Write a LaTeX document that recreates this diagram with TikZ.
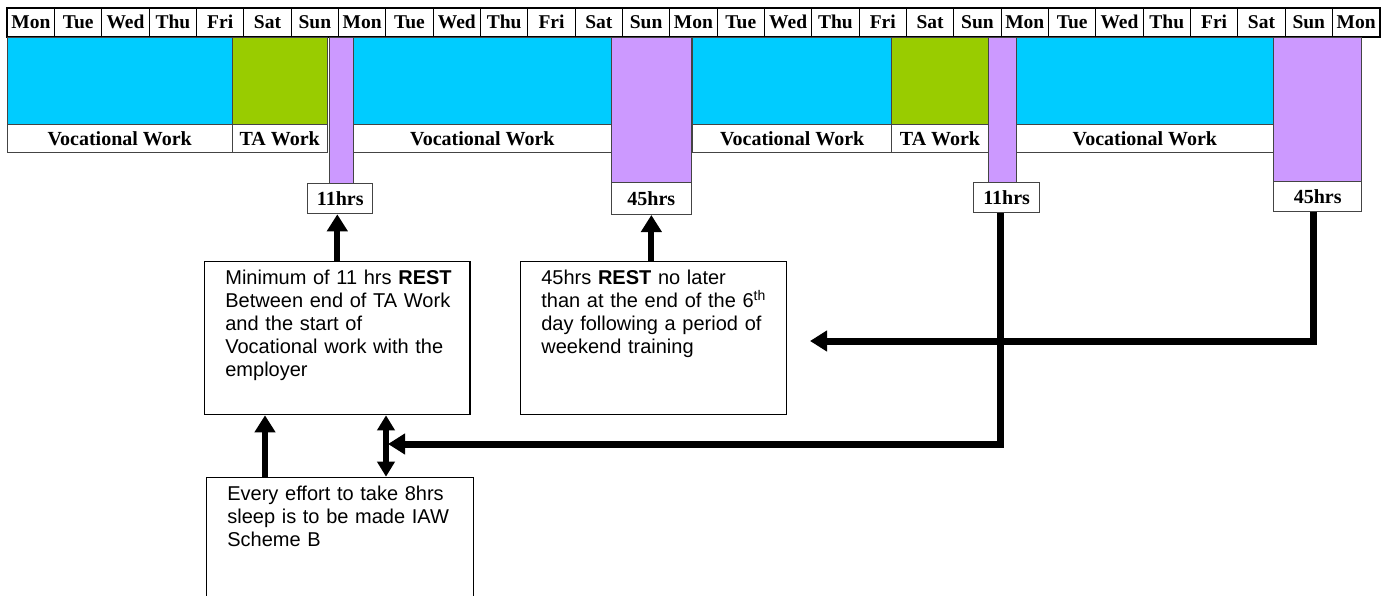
\documentclass[tikz,border=0pt]{standalone}
\usepackage{fontspec}
\setmainfont{Liberation Serif}
\newfontfamily\sansf{Liberation Sans}
\usetikzlibrary{arrows.meta,calc}
\definecolor{vblue}{HTML}{00CCFF}
\definecolor{tgreen}{HTML}{99CC00}
\definecolor{rpurple}{HTML}{CC99FF}
\definecolor{edgec}{HTML}{444444}
\begin{document}
\begin{tikzpicture}[x=1pt,y=-1pt,
  day/.style={draw, line width=1pt, minimum width=47.33pt, minimum height=28pt, inner sep=0pt, anchor=north west, text height=16pt, text depth=3pt, font=\bfseries\fontsize{19.5}{20}\selectfont},
  blk/.style={draw=edgec, line width=1pt, inner sep=0pt, anchor=north west},
  lbl/.style={draw=edgec, fill=white, line width=1pt, inner sep=0pt, anchor=north west, minimum height=28.5pt, font=\bfseries\fontsize{20}{22}\selectfont},
  hrs/.style={draw=edgec, fill=white, line width=1pt, inner sep=0pt, anchor=north west, font=\bfseries\fontsize{20}{22}\selectfont},
  info/.style={draw, line width=1.3pt, anchor=north west, align=left, inner xsep=20.7pt, inner ysep=7pt, text height=16pt, font=\sansf\fontsize{20}{23}\selectfont},
  conn/.style={line width=7pt, line join=miter, -{Triangle[length=17pt,width=20pt]}},
  ]
\useasboundingbox (0,0) rectangle (1394,596);
\clip (0,0) rectangle (1394,596);

% header row of days
\foreach \d [count=\i from 0] in {Mon,Tue,Wed,Thu,Fri,Sat,Sun,Mon,Tue,Wed,Thu,Fri,Sat,Sun,Mon,Tue,Wed,Thu,Fri,Sat,Sun,Mon,Tue,Wed,Thu,Fri,Sat,Sun,Mon}
  \node[day] (d\i) at ({6.7+47.33*\i},8) {\d};
\draw[line width=2pt] (d0.north west) rectangle (d28.south east);

% week 1
\node[blk, fill=vblue, minimum width=225pt, minimum height=87pt] (b1) at (6.7,37) {};
\node[lbl, minimum width=225pt] (l1) at (6.7,124) {Vocational Work};
\node[blk, fill=tgreen, minimum width=95pt, minimum height=87pt] (g1) at (231.7,37) {};
\node[lbl, minimum width=95pt] (l2) at (231.7,124) {TA Work};
\node[blk, fill=rpurple, minimum width=24pt, minimum height=146pt] (p1) at (328.7,37) {};
\node[hrs, minimum width=65pt, minimum height=30.6pt] (h11a) at (307.3,182.7) {11hrs};

% week 2
\node[blk, fill=vblue, minimum width=257.7pt, minimum height=87pt] (b2) at (353,37) {};
\node[lbl, minimum width=257.7pt] (l3) at (353,124) {Vocational Work};
\node[blk, fill=rpurple, minimum width=80pt, minimum height=145pt] (p2) at (611,37) {};
\node[hrs, minimum width=80.3pt, minimum height=32pt] (h45a) at (610.7,182) {45hrs};

% week 3
\node[blk, fill=vblue, minimum width=198.7pt, minimum height=87pt] (b3) at (692.3,37) {};
\node[lbl, minimum width=198.7pt] (l4) at (692.3,124) {Vocational Work};
\node[blk, fill=tgreen, minimum width=97pt, minimum height=87pt] (g2) at (891,37) {};
\node[lbl, minimum width=97pt] (l5) at (891,124) {TA Work};
\node[blk, fill=rpurple, minimum width=27.7pt, minimum height=145pt] (p3) at (988.3,37) {};
\node[hrs, minimum width=65.7pt, minimum height=30.6pt] (h11b) at (973.3,181.7) {11hrs};

% week 4
\node[blk, fill=vblue, minimum width=256.7pt, minimum height=87pt] (b4) at (1016,37) {};
\node[lbl, minimum width=256.7pt] (l6) at (1016,124) {Vocational Work};
\node[blk, fill=rpurple, minimum width=88pt, minimum height=144pt] (p4) at (1273,37) {};
\node[hrs, minimum width=87.7pt, minimum height=30.3pt] (h45b) at (1273.3,180.7) {45hrs};

% explanation boxes
\node[info, text width=223.9pt, text depth=123pt] (min) at (204,261)
  {\mbox{Minimum of 11 hrs \textbf{REST}}\\\mbox{Between end of TA Work}\\\mbox{and the start of}\\\mbox{Vocational work with the}\\\mbox{employer}};
\node[info, text width=224.6pt, text depth=123pt] (rest) at (520,261)
  {\mbox{45hrs \textbf{REST} no later}\\\mbox{than at the end of the 6\textsuperscript{th}}\\\mbox{day following a period of}\\\mbox{weekend training}};
\node[info, text width=225.3pt, text depth=150pt] (every) at (206,476.7)
  {\mbox{Every effort to take 8hrs}\\\mbox{sleep is to be made IAW}\\\mbox{Scheme B}};

% connectors
\draw[conn, line width=6pt] (min.north) -- (min.north |- h11a.south);
\draw[conn, line width=6pt] (h45a.south |- rest.north) -- (h45a.south);
\coordinate (e1) at ([xshift=59pt]every.north west);
\coordinate (e2) at ([xshift=180pt]every.north west);
\draw[conn, line width=6.5pt] (e1) -- (e1 |- min.south);
\draw[line width=6pt, {Triangle[length=15pt,width=17pt]}-{Triangle[length=15pt,width=17pt]}] (e2 |- min.south) -- (e2);
\coordinate (j1) at (388,444);
\coordinate (t45) at (810,341);
\draw[conn] ([xshift=-6pt]h11b.south) |- (j1);
\draw[conn] ([xshift=-4pt]h45b.south) |- (t45);
\end{tikzpicture}
\end{document}
